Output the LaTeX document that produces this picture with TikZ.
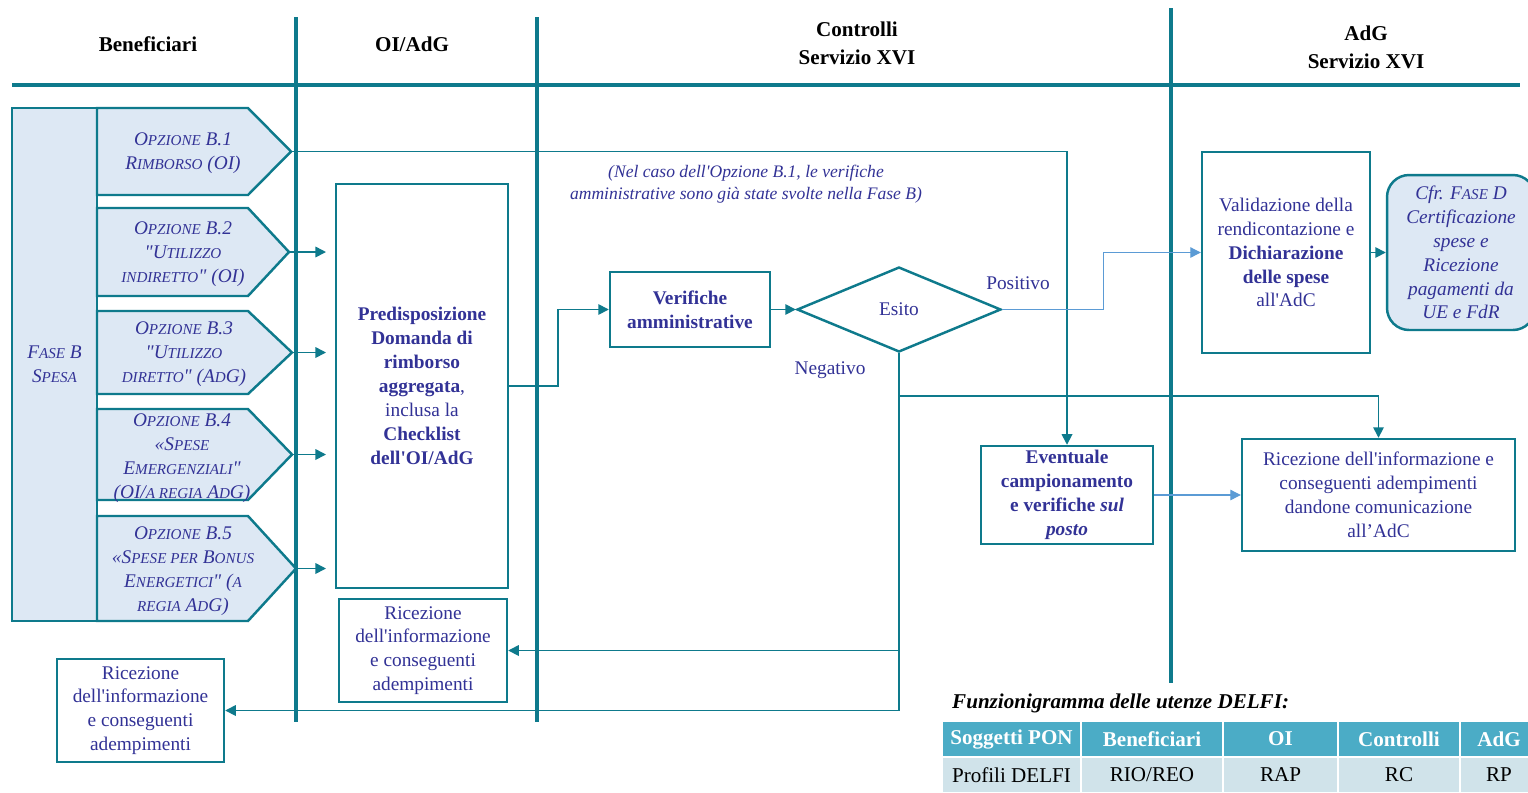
\documentclass[tikz,border=0pt]{standalone}
\usepackage{fontspec}
\setmainfont{Liberation Serif}[Ligatures=TeXOff]
\usetikzlibrary{shapes.geometric,arrows.meta}
\definecolor{lanecol}{RGB}{14,122,140}
\definecolor{txtcol}{RGB}{50,50,150}
\definecolor{optfill}{RGB}{221,232,244}
\definecolor{lightarr}{RGB}{91,155,213}
\definecolor{tabhead}{RGB}{75,172,198}
\definecolor{tabrow}{RGB}{208,227,234}
% fake small caps, as in the slide
\newcommand{\sm}[1]{{\fontsize{8.6}{10}\selectfont #1}}

\begin{document}
\begin{tikzpicture}[
   x=0.02cm,y=-0.02cm,>={Triangle[length=6pt,width=6pt]},
   lane/.style={draw=lanecol,line width=2.3pt},
   lanehead/.style={font=\fontsize{12}{16}\selectfont\bfseries,align=center},
   flowbox/.style={draw=lanecol,line width=1.4pt,fill=white,inner sep=0pt,
     align=center,text=txtcol,font=\fontsize{11}{13.6}\selectfont},
   optbox/.style={draw=lanecol,line width=1.4pt,fill=optfill},
   opttext/.style={align=center,text=txtcol,font=\fontsize{11}{13.6}\selectfont\itshape},
   flowlabel/.style={text=txtcol,font=\fontsize{11}{13.6}\selectfont},
   flowline/.style={draw=lanecol,line width=0.9pt},
   flow/.style={flowline,->},
   flowlight/.style={->,draw=lightarr,line width=0.6pt},
   cell/.style={minimum height=0.68cm,inner sep=0pt,font=\fontsize{12}{14}\selectfont}
 ]
 \useasboundingbox[fill=white] (0,0) rectangle (1528,792);
 % swimlanes
 \draw[lane] (12,85) -- (1520,85);
 \draw[lane] (296,17) -- (296,722);
 \draw[lane] (537,17) -- (537,722);
 \draw[lane] (1171,8) -- (1171,683);
 \node[lanehead] (hben) at (148,44) {Beneficiari};
 \node[lanehead] (hoi) at (412,44) {OI/AdG};
 \node[lanehead] (hctr) at (857,43) {Controlli\\Servizio XVI};
 \node[lanehead] (hadg) at (1366,47) {AdG\\Servizio XVI};

 % Fase B and its five options
 \node[optbox,opttext,minimum width=1.7cm,minimum height=10.26cm,inner sep=0pt]
   (fase) at (54.5,364.5) {F\sm{ASE} B\\S\sm{PESA}};
 \foreach \i/\ya/\yb/\tip in {1/108/195/291,2/208/296/289,3/311/394/292,
   4/409/500/292,5/516/621/296} {
   \draw[optbox] (97,\ya) -- (248,\ya) -- (\tip,{(\ya+\yb)/2}) -- (248,\yb)
     -- (97,\yb) -- cycle;
   \coordinate (o\i) at (\tip,{(\ya+\yb)/2});
 }
 \node[opttext] (t1) at (183,153) {O\sm{PZIONE} B.1\\R\sm{IMBORSO} (OI)};
 \node[opttext] (t2) at (183,254) {O\sm{PZIONE} B.2\\"U\sm{TILIZZO}\\\sm{INDIRETTO}" (OI)};
 \node[opttext] (t3) at (184,354) {O\sm{PZIONE} B.3\\"U\sm{TILIZZO}\\\sm{DIRETTO}" (A\sm{D}G)};
 \node[opttext] (t4) at (182,458) {O\sm{PZIONE} B.4\\«S\sm{PESE}\\E\sm{MERGENZIALI}"\\(OI/\sm{A REGIA} A\sm{D}G)};
 \node[opttext] (t5) at (183,571) {O\sm{PZIONE} B.5\\«S\sm{PESE PER} B\sm{ONUS}\\E\sm{NERGETICI}" (\sm{A}\\\sm{REGIA} A\sm{D}G)};

 % OI/AdG lane
 \node[flowbox,minimum width=3.44cm,minimum height=8.08cm] (pred) at (422,386)
   {\textbf{Predisposizione}\\\textbf{Domanda di}\\\textbf{rimborso}\\
    \textbf{aggregata},\\inclusa la\\\textbf{Checklist}\\\textbf{dell'OI/AdG}};
 \node[flowbox,minimum width=3.36cm,minimum height=2.06cm] (ricoi) at (423,650.5)
   {Ricezione\\dell'informazione\\e conseguenti\\adempimenti};
 \node[flowbox,minimum width=3.34cm,minimum height=2.06cm] (ricben) at (140.5,710.5)
   {Ricezione\\dell'informazione\\e conseguenti\\adempimenti};

 % Controlli lane
 \node[text=txtcol,align=center,font=\fontsize{10}{12.5}\selectfont\itshape] (nota)
   at (746,184) {(Nel caso dell'Opzione B.1, le verifiche\\amministrative sono già state svolte nella Fase B)};
 \node[flowbox,minimum width=3.2cm,minimum height=1.5cm] (verif) at (690,309.5)
   {\textbf{Verifiche}\\\textbf{amministrative}};
 \node[flowbox,shape=diamond,minimum width=4.08cm,minimum height=1.7cm] (esito)
   at (899,309.5) {Esito};
 \node[flowlabel] (lpos) at (1018,283) {Positivo};
 \node[flowlabel] (lneg) at (830,370) {Negativo};
 \node[flowbox,minimum width=3.44cm,minimum height=1.96cm] (event) at (1067,495)
   {\textbf{Eventuale}\\\textbf{campionamento}\\\textbf{e verifiche \textit{sul}}\\\textbf{\textit{posto}}};

 % AdG lane
 \node[flowbox,minimum width=3.36cm,minimum height=4.02cm] (valid) at (1286,252.5)
   {Validazione della\\rendicontazione e\\\textbf{Dichiarazione}\\\textbf{delle spese}\\all'AdC};
 \node[optbox,opttext,rounded corners=0.44cm,minimum width=2.96cm,minimum height=3.1cm,
   inner sep=0pt] (cfr) at (1461,252.5)
   {Cfr. F\sm{ASE} D\\Certificazione\\spese e\\Ricezione\\pagamenti da\\UE e FdR};
 \node[flowbox,minimum width=5.46cm,minimum height=2.24cm] (ricadg) at (1378.5,495)
   {Ricezione dell'informazione e\\conseguenti adempimenti\\dandone comunicazione\\all’AdC};

 % connectors
 \foreach \i in {2,...,5} {
   \draw[flow,shorten >=5pt] (o\i) -- (pred.west |- o\i);
 }
 \draw[flow] (o1) -| (event.north);
 \draw[flow] (pred.east) -- ++(49,0) |- (verif.west);
 \draw[flow] (verif.east) -- (esito.west);
 \draw[flowlight] (esito.east) -- ++(101,0) |- (valid.west);
 \draw[flow] (valid.east) -- (cfr.west);
 \draw[flowline] (esito.south) -- (esito.south |- ricben.east);
 \draw[flow] (899,396) -| (ricadg.north);
 \draw[flow] (esito.south |- ricoi.east) -- (ricoi.east);
 \draw[flow] (esito.south |- ricben.east) -- (ricben.east);
 \draw[flowlight] (event.east) -- (ricadg.west);

 % user profiles table
 \node[anchor=west,font=\fontsize{12}{14}\selectfont\bfseries\itshape] (ttl)
   at (946,703) {Funzionigramma delle utenze DELFI:};
 \foreach \cx/\cw/\hd/\pf [count=\k] in {1011.5/2.74/Soggetti PON/Profili DELFI,
   1152/2.8/Beneficiari/{RIO/REO},1280.5/2.26/OI/RAP,1399/2.4/Controlli/RC,
   1499/1.52/AdG/RP} {
   \node[cell,fill=tabhead,text=white,font=\fontsize{12}{14}\selectfont\bfseries,
     minimum width=\cw cm] (h\k) at (\cx,739) {\hd};
   \node[cell,fill=tabrow,minimum width=\cw cm] (p\k) at (\cx,775) {\pf};
 }
\end{tikzpicture}
\end{document}
